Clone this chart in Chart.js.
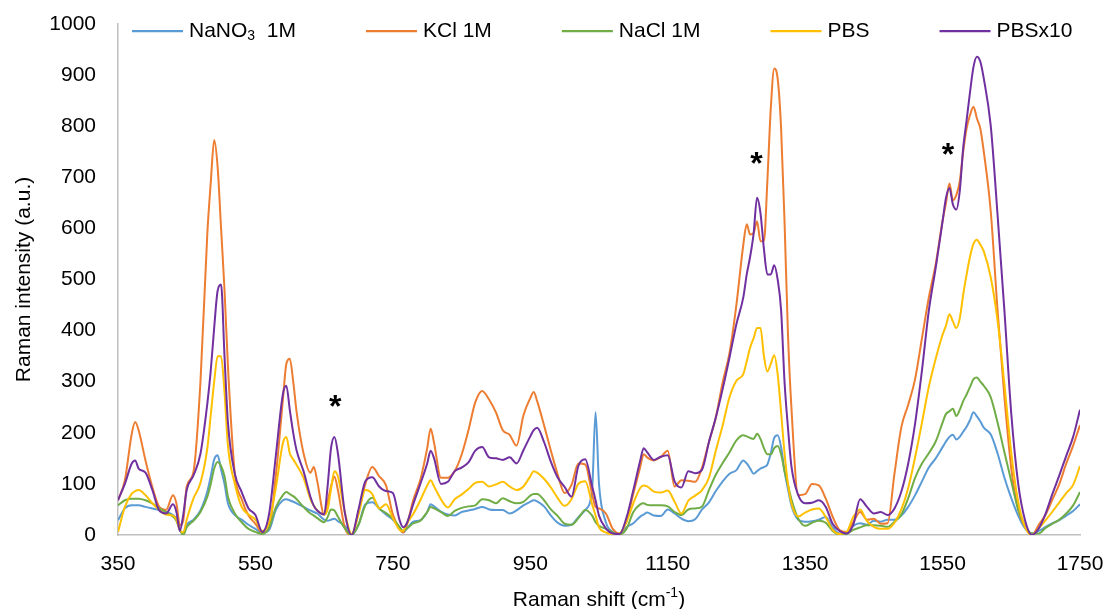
<!DOCTYPE html>
<html>
<head>
<meta charset="utf-8">
<title>Raman spectra</title>
<script src="https://cdn.jsdelivr.net/npm/chart.js@4.4.1/dist/chart.umd.min.js"></script>
<style>
  html, body { margin: 0; padding: 0; background: #fff; }
  #wrap { width: 1110px; height: 609px; position: relative; }
</style>
</head>
<body>
<div id="wrap"><canvas id="chart-raman"></canvas></div>
<script>
// Raman shift (cm-1), one line per block so the series below stay aligned
const shift = [
  350, 360, 370, 375, 380, 390, 400, 410, 420, 430, 435, 440,
  445, 450, 460, 470, 480, 485, 490, 495, 500, 505, 510, 520, 530, 540,
  550, 560, 570, 580, 590, 595, 600, 605, 610, 620, 630, 635, 640, 650, 655, 660, 665, 670, 680, 690,
  700, 710, 720, 730, 740, 750, 760, 765, 770, 780, 790, 800, 805, 810, 820, 830, 840,
  850, 860, 870, 880, 890, 900, 910, 920, 930, 940, 950, 955, 960, 970, 980, 990, 1000, 1010, 1020, 1030, 1040,
  1045, 1050, 1060, 1070, 1080, 1090, 1100, 1110, 1115, 1120, 1130, 1140, 1150, 1160, 1170, 1180, 1190, 1200,
  1210, 1220, 1230, 1240, 1250, 1260, 1265, 1270, 1275, 1280, 1285, 1290, 1295, 1300, 1305, 1310, 1315, 1320, 1325, 1330, 1340,
  1350, 1360, 1370, 1380, 1390, 1400, 1410, 1420, 1430, 1440, 1450, 1460, 1470, 1480, 1490, 1500, 1510, 1520, 1530, 1540,
  1550, 1555, 1560, 1565, 1570, 1575, 1580, 1585, 1590, 1595, 1600, 1605, 1610, 1620, 1630, 1640, 1650, 1660, 1670, 1680, 1690, 1700, 1710, 1720, 1730, 1740, 1750
];

// Raman intensity (a.u.)
const nano3 = [
  29, 52, 58, 58, 58, 55, 52, 49, 45, 39, 32, 10,
  2, 20, 30, 48, 85, 115, 148, 156, 128, 100, 62, 39, 30, 20,
  12, 4, 10, 50, 68, 70, 68, 65, 62, 55, 48, 45, 42, 30, 28, 30, 32, 27, 18, 0,
  20, 60, 64, 52, 40, 30, 15, 5, 12, 26, 29, 45, 60, 56, 46, 40, 38,
  45, 48, 51, 55, 50, 49, 49, 42, 48, 58, 65, 68, 66, 56, 38, 24, 18, 20, 35, 49, 90,
  240, 100, 25, 6, 1, 15, 23, 36, 40, 44, 38, 37, 50, 42, 32, 27, 31, 50,
  64, 86, 105, 120, 127, 146, 140, 130, 120, 125, 130, 133, 138, 160, 190, 195, 172, 125, 90, 58, 30,
  26, 27, 30, 35, 15, 3, 5, 18, 23, 20, 28, 26, 30, 30, 38, 55, 78, 105, 132, 150,
  172, 183, 192, 196, 187, 192, 202, 212, 225, 240, 232, 222, 210, 197, 160, 112, 72, 38, 13, 3, 8, 16, 23, 29, 38, 47, 60
];

const kcl = [
  68, 107, 198, 221, 205, 146, 94, 55, 49, 78, 62, 19,
  29, 95, 125, 300, 590, 690, 773, 720, 600, 480, 330, 120, 70, 38,
  22, 5, 15, 120, 265, 335, 345, 300, 240, 160, 122, 133, 105, 40, 65, 95, 114, 88, 15, 0,
  45, 100, 133, 115, 97, 40, 12, 5, 18, 70, 108, 170, 208, 180, 112, 112, 125,
  157, 205, 260, 282, 265, 240, 205, 196, 175, 234, 268, 280, 262, 215, 165, 118, 82, 98, 140, 138, 80,
  55, 52, 42, 12, 3, 28, 81, 133, 158, 152, 146, 153, 165, 95, 107, 106, 104, 132,
  182, 230, 299, 357, 451, 568, 608, 588, 591, 614, 575, 575, 692, 835, 913, 893, 796, 614, 393, 250, 78,
  80, 100, 97, 71, 36, 10, 6, 25, 45, 30, 32, 22, 23, 120, 211, 255, 305, 385, 465, 530,
  615, 650, 688, 655, 665, 692, 750, 796, 822, 838, 815, 795, 750, 635, 440, 270, 130, 50, 16, 0, 20, 40, 70, 100, 140, 175, 215
];

const nacl = [
  58, 68, 71, 71, 71, 68, 62, 52, 45, 36, 28, 10,
  0, 15, 28, 45, 75, 100, 130, 143, 135, 115, 75, 42, 25, 12,
  6, 2, 15, 55, 78, 84, 80, 76, 70, 55, 42, 38, 33, 25, 35, 50, 48, 36, 13, 0,
  20, 58, 73, 52, 43, 32, 15, 8, 12, 23, 28, 45, 55, 52, 45, 37, 47,
  53, 56, 58, 70, 68, 62, 72, 66, 62, 65, 77, 80, 80, 68, 50, 37, 22, 20, 33, 49, 38,
  25, 18, 12, 5, 1, 12, 45, 60, 62, 59, 58, 58, 56, 45, 39, 50, 52, 56,
  88, 118, 141, 162, 185, 195, 193, 190, 188, 198, 188, 170, 158, 158, 170, 174, 158, 125, 98, 70, 32,
  18, 24, 28, 24, 8, 1, 2, 10, 15, 19, 19, 18, 16, 26, 40, 72, 112, 140, 160, 183,
  220, 237, 242, 247, 233, 245, 262, 275, 290, 305, 308, 300, 292, 270, 220, 162, 105, 50, 18, 3, 3, 14, 22, 30, 42, 58, 84
];

const pbs = [
  6, 55, 81, 86, 88, 78, 62, 49, 40, 38, 30, 10,
  5, 30, 72, 102, 170, 235, 300, 350, 350, 280, 175, 100, 55, 40,
  30, 8, 25, 95, 180, 192, 160, 148, 137, 112, 70, 57, 48, 40, 50, 90, 125, 115, 45, 2,
  40, 88, 80, 52, 60, 33, 10, 8, 22, 42, 68, 97, 107, 95, 70, 54, 70,
  79, 90, 102, 104, 95, 99, 104, 95, 88, 95, 115, 125, 122, 110, 93, 72, 57, 70, 100, 105, 60,
  38, 15, 5, 0, 3, 25, 62, 92, 97, 95, 85, 83, 87, 65, 42, 67, 77, 88,
  112, 165, 215, 270, 302, 315, 340, 367, 385, 405, 405, 350, 320, 335, 352, 315, 240, 160, 100, 62, 36,
  44, 50, 52, 35, 10, 2, 5, 35, 50, 27, 16, 12, 12, 24, 50, 92, 152, 220, 290, 345,
  392, 410, 432, 418, 405, 424, 470, 510, 545, 570, 578, 568, 555, 505, 420, 295, 160, 65, 16, 0, 13, 29, 46, 64, 82, 98, 135
];

const pbs10 = [
  68, 100, 140, 146, 130, 122, 88, 48, 42, 60, 45, 8,
  40, 88, 117, 159, 257, 322, 406, 478, 490, 350, 220, 120, 84, 52,
  39, 6, 42, 159, 276, 292, 245, 200, 165, 125, 75, 57, 48, 40, 95, 170, 192, 160, 45, 0,
  50, 105, 113, 95, 86, 82, 28, 15, 22, 62, 100, 140, 165, 150, 100, 104, 125,
  132, 142, 165, 172, 152, 150, 147, 152, 140, 166, 193, 205, 210, 182, 143, 112, 94, 75, 135, 148, 95,
  68, 38, 13, 3, 2, 34, 88, 146, 170, 162, 147, 153, 156, 105, 93, 125, 121, 128,
  182, 230, 286, 348, 413, 465, 510, 545, 590, 660, 630, 560, 510, 510, 528, 500, 440, 300, 210, 135, 78,
  62, 63, 68, 55, 22, 8, 3, 20, 70, 55, 42, 45, 39, 52, 85, 140, 218, 322, 439, 523,
  614, 660, 679, 647, 637, 673, 757, 812, 867, 916, 936, 926, 893, 802, 627, 439, 237, 101, 29, 0, 13, 42, 81, 117, 155, 192, 245
];

// _{..} = subscript, ^{..} = superscript
const seriesNames = ["NaNO_{3}  1M", "KCl 1M", "NaCl 1M", "PBS", "PBSx10"];
const seriesColors = ["#5B9BD5", "#ED7D31", "#70AD47", "#FFC000", "#7030A0"];
const xTicks = [350, 550, 750, 950, 1150, 1350, 1550, 1750];

// peaks marked with a star
const starShift = [666, 1279, 1558];
const starLevel = [266, 741, 759];

const FONT = "'Liberation Sans', Arial, sans-serif";
const TEXT_SIZE = 21;

Chart.defaults.font.family = FONT;
Chart.defaults.color = "#000";

// draws (or only measures) a label with sub/superscripts, returns its width
function richText(ctx, text, x, y, size, draw) {
  const parts = text.split(/([_^]\{[^}]*\})/).filter(p => p.length);
  let w = 0;
  ctx.save();
  ctx.textAlign = "left";
  ctx.textBaseline = "middle";
  ctx.fillStyle = "#000";
  parts.forEach(p => {
    let s = size, dy = 0, t = p;
    if (p[0] === "_" || p[0] === "^") {
      t = p.slice(2, -1);
      s = Math.round(size * 0.66);
      dy = p[0] === "_" ? size * 0.25 : -size * 0.35;
    }
    ctx.font = s + "px " + FONT;
    if (draw) ctx.fillText(t, x + w, y + dy);
    w += ctx.measureText(t).width;
  });
  ctx.restore();
  return w;
}

const decorPlugin = {
  id: "decor",
  afterDatasetsDraw(chart) {
    const ctx = chart.ctx;
    const sx = chart.scales.x, sy = chart.scales.y;
    const size = 32;
    ctx.save();
    ctx.font = "bold " + size + "px " + FONT;
    ctx.textAlign = "center";
    ctx.textBaseline = "alphabetic";
    ctx.fillStyle = "#000";
    starShift.forEach((s, i) => {
      ctx.fillText("*", sx.getPixelForValue(s), sy.getPixelForValue(starLevel[i]) + size * 0.56);
    });
    ctx.restore();
  },
  afterDraw(chart) {
    const ctx = chart.ctx;
    const area = chart.chartArea;

    // legend inside the top of the plot, Excel style
    let x = 132;
    const y = 31;
    chart.data.datasets.forEach((ds, i) => {
      ctx.save();
      ctx.strokeStyle = ds.borderColor;
      ctx.lineWidth = 2.25;
      ctx.beginPath();
      ctx.moveTo(x, y);
      ctx.lineTo(x + 51, y);
      ctx.stroke();
      ctx.restore();
      const w = richText(ctx, seriesNames[i], x + 57, y, TEXT_SIZE, true);
      x += 57 + w + 70;
    });

    // x axis title with the superscript
    const title = "Raman shift (cm^{-1})";
    const tw = richText(ctx, title, 0, 0, TEXT_SIZE, false);
    richText(ctx, title, (area.left + area.right) / 2 - tw / 2, area.bottom + 65, TEXT_SIZE, true);
  }
};

const allSeries = [nano3, kcl, nacl, pbs, pbs10];

const datasets = allSeries.map((vals, i) => ({
  label: seriesNames[i],
  data: shift.map((s, j) => ({ x: s, y: vals[j] })),
  borderColor: seriesColors[i],
  backgroundColor: seriesColors[i],
  borderWidth: 2,
  pointRadius: 0,
  cubicInterpolationMode: "monotone",
  fill: false,
  order: allSeries.length - i
}));

const plainNumber = v => String(v);

const ctxRaman = document.getElementById("chart-raman").getContext("2d");
new Chart(ctxRaman, {
  type: "line",
  data: { datasets: datasets },
  options: {
    responsive: true,
    maintainAspectRatio: false,
    animation: false,
    events: [],
    layout: { padding: { top: 24, right: 30, left: 0, bottom: 0 } },
    plugins: {
      legend: { display: false },
      tooltip: { enabled: false }
    },
    scales: {
      x: {
        type: "linear",
        min: 350,
        max: 1750,
        afterBuildTicks: scale => { scale.ticks = xTicks.map(v => ({ value: v })); },
        afterFit: scale => {
          scale.height = 74;
          scale.paddingLeft = 0;
          scale.paddingRight = 0;
        },
        grid: { display: false, drawTicks: false },
        border: { display: true, color: "#BFBFBF", width: 1.5 },
        ticks: { padding: 17, maxRotation: 0, autoSkip: false, callback: plainNumber, font: { size: TEXT_SIZE } }
      },
      y: {
        min: 0,
        max: 1000,
        afterFit: scale => {
          scale.width = 118;
          scale.paddingTop = 0;
          scale.paddingBottom = 0;
        },
        grid: { display: false, drawTicks: false },
        border: { display: true, color: "#BFBFBF", width: 1.5 },
        ticks: { stepSize: 100, padding: 22, callback: plainNumber, font: { size: TEXT_SIZE } },
        title: {
          display: true,
          text: "Raman intensity (a.u.)",
          font: { size: TEXT_SIZE },
          padding: { top: 12, bottom: 0 }
        }
      }
    }
  },
  plugins: [decorPlugin]
});
</script>
</body>
</html>
